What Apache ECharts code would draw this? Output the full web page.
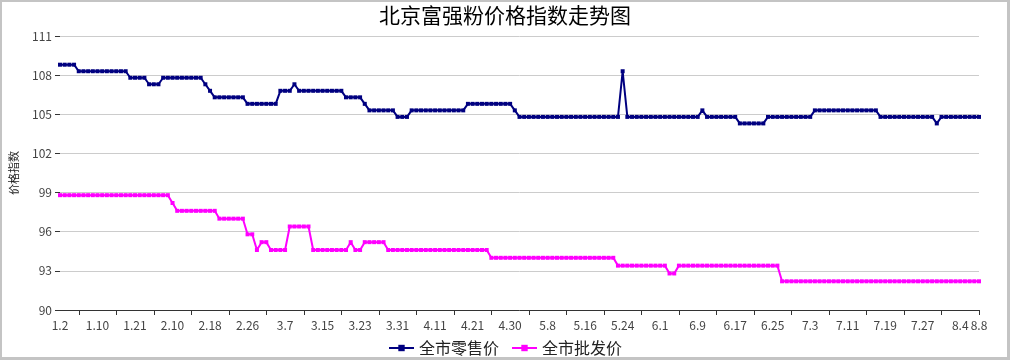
<!DOCTYPE html>
<html>
<head>
<meta charset="utf-8">
<script src="https://cdn.jsdelivr.net/npm/echarts@6/dist/echarts.min.js"></script>
<style>
html,body{margin:0;padding:0;background:#fff;}
#wrap{position:relative;width:1010px;height:360px;}
#chart{position:absolute;left:0;top:0;width:1010px;height:360px;}
#frame{position:absolute;left:0;top:0;width:1010px;height:360px;box-sizing:border-box;border-style:solid;border-color:#c4c4c4;border-width:2px 3px 3px 2px;pointer-events:none;}
</style>
</head>
<body>
<div id="wrap"><div id="chart"></div><div id="frame"></div></div>
<script>
var titleText = '北京富强粉价格指数走势图';
var yAxisName = '价格指数';
var seriesNames = ['全市零售价', '全市批发价'];

var dates = [
 '1.2','1.3','1.4','1.5','1.6','1.7','1.8','1.9',
 '1.10','1.11','1.12','1.13','1.14','1.17','1.18','1.19',
 '1.21','1.22','1.23','1.24','1.25','1.26','1.27','1.28',
 '2.10','2.11','2.12','2.13','2.14','2.15','2.16','2.17',
 '2.18','2.19','2.20','2.21','2.22','2.23','2.24','2.25',
 '2.26','2.27','2.28','3.2','3.3','3.4','3.5','3.6',
 '3.7','3.8','3.9','3.10','3.11','3.12','3.13','3.14',
 '3.15','3.16','3.17','3.18','3.19','3.20','3.21','3.22',
 '3.23','3.24','3.25','3.26','3.27','3.28','3.29','3.30',
 '3.31','4.1','4.2','4.3','4.7','4.8','4.9','4.10',
 '4.11','4.12','4.13','4.14','4.15','4.16','4.19','4.20',
 '4.21','4.22','4.23','4.24','4.25','4.26','4.27','4.29',
 '4.30','5.1','5.2','5.3','5.4','5.5','5.6','5.7',
 '5.8','5.9','5.10','5.11','5.12','5.13','5.14','5.15',
 '5.16','5.17','5.18','5.19','5.20','5.21','5.22','5.23',
 '5.24','5.25','5.26','5.27','5.28','5.29','5.30','5.31',
 '6.1','6.2','6.3','6.4','6.5','6.6','6.7','6.8',
 '6.9','6.10','6.11','6.12','6.13','6.14','6.15','6.16',
 '6.17','6.18','6.19','6.20','6.21','6.22','6.23','6.24',
 '6.25','6.26','6.27','6.28','6.29','6.30','7.1','7.2',
 '7.3','7.4','7.5','7.6','7.7','7.8','7.9','7.10',
 '7.11','7.12','7.13','7.14','7.15','7.16','7.17','7.18',
 '7.19','7.20','7.21','7.22','7.23','7.24','7.25','7.26',
 '7.27','7.28','7.29','7.30','7.31','8.1','8.2','8.3',
 '8.4','8.5','8.6','8.7','8.8'
];

var retail = [
 108.8,108.8,108.8,108.8,108.3,108.3,108.3,108.3,
 108.3,108.3,108.3,108.3,108.3,108.3,108.3,107.8,
 107.8,107.8,107.8,107.3,107.3,107.3,107.8,107.8,
 107.8,107.8,107.8,107.8,107.8,107.8,107.8,107.3,
 106.8,106.3,106.3,106.3,106.3,106.3,106.3,106.3,
 105.8,105.8,105.8,105.8,105.8,105.8,105.8,106.8,
 106.8,106.8,107.3,106.8,106.8,106.8,106.8,106.8,
 106.8,106.8,106.8,106.8,106.8,106.3,106.3,106.3,
 106.3,105.8,105.3,105.3,105.3,105.3,105.3,105.3,
 104.8,104.8,104.8,105.3,105.3,105.3,105.3,105.3,
 105.3,105.3,105.3,105.3,105.3,105.3,105.3,105.8,
 105.8,105.8,105.8,105.8,105.8,105.8,105.8,105.8,
 105.8,105.3,104.8,104.8,104.8,104.8,104.8,104.8,
 104.8,104.8,104.8,104.8,104.8,104.8,104.8,104.8,
 104.8,104.8,104.8,104.8,104.8,104.8,104.8,104.8,
 108.3,104.8,104.8,104.8,104.8,104.8,104.8,104.8,
 104.8,104.8,104.8,104.8,104.8,104.8,104.8,104.8,
 104.8,105.3,104.8,104.8,104.8,104.8,104.8,104.8,
 104.8,104.3,104.3,104.3,104.3,104.3,104.3,104.8,
 104.8,104.8,104.8,104.8,104.8,104.8,104.8,104.8,
 104.8,105.3,105.3,105.3,105.3,105.3,105.3,105.3,
 105.3,105.3,105.3,105.3,105.3,105.3,105.3,104.8,
 104.8,104.8,104.8,104.8,104.8,104.8,104.8,104.8,
 104.8,104.8,104.8,104.3,104.8,104.8,104.8,104.8,
 104.8,104.8,104.8,104.8,104.8
];

var wholesale = [
 98.8,98.8,98.8,98.8,98.8,98.8,98.8,98.8,
 98.8,98.8,98.8,98.8,98.8,98.8,98.8,98.8,
 98.8,98.8,98.8,98.8,98.8,98.8,98.8,98.8,
 98.2,97.6,97.6,97.6,97.6,97.6,97.6,97.6,
 97.6,97.6,97.0,97.0,97.0,97.0,97.0,97.0,
 95.8,95.8,94.6,95.2,95.2,94.6,94.6,94.6,
 94.6,96.4,96.4,96.4,96.4,96.4,94.6,94.6,
 94.6,94.6,94.6,94.6,94.6,94.6,95.2,94.6,
 94.6,95.2,95.2,95.2,95.2,95.2,94.6,94.6,
 94.6,94.6,94.6,94.6,94.6,94.6,94.6,94.6,
 94.6,94.6,94.6,94.6,94.6,94.6,94.6,94.6,
 94.6,94.6,94.6,94.6,94.0,94.0,94.0,94.0,
 94.0,94.0,94.0,94.0,94.0,94.0,94.0,94.0,
 94.0,94.0,94.0,94.0,94.0,94.0,94.0,94.0,
 94.0,94.0,94.0,94.0,94.0,94.0,94.0,93.4,
 93.4,93.4,93.4,93.4,93.4,93.4,93.4,93.4,
 93.4,93.4,92.8,92.8,93.4,93.4,93.4,93.4,
 93.4,93.4,93.4,93.4,93.4,93.4,93.4,93.4,
 93.4,93.4,93.4,93.4,93.4,93.4,93.4,93.4,
 93.4,93.4,92.2,92.2,92.2,92.2,92.2,92.2,
 92.2,92.2,92.2,92.2,92.2,92.2,92.2,92.2,
 92.2,92.2,92.2,92.2,92.2,92.2,92.2,92.2,
 92.2,92.2,92.2,92.2,92.2,92.2,92.2,92.2,
 92.2,92.2,92.2,92.2,92.2,92.2,92.2,92.2,
 92.2,92.2,92.2,92.2,92.2
];

var FONT = '"Noto Sans CJK SC", "Noto Sans", sans-serif';
var lastIdx = dates.length - 1;

var chart = echarts.init(document.getElementById('chart'), null, {renderer: 'canvas'});
chart.setOption({
  animation: false,
  backgroundColor: '#ffffff',
  textStyle: {fontFamily: FONT},
  title: {
    text: titleText,
    left: 'center',
    top: 5,
    padding: 0,
    textStyle: {fontFamily: FONT, fontSize: 21, fontWeight: 'normal', color: '#000'}
  },
  legend: {
    bottom: 4,
    left: 'center',
    padding: 0,
    itemWidth: 25,
    itemHeight: 8,
    itemGap: 12,
    textStyle: {fontFamily: FONT, fontSize: 16, color: '#222'},
    data: seriesNames
  },
  grid: {left: 59, right: 31, top: 36, bottom: 50},
  xAxis: {
    type: 'category',
    boundaryGap: false,
    data: dates,
    axisLine: {lineStyle: {color: '#333', width: 1}},
    axisTick: {
      show: true,
      length: 5,
      interval: function (i) { return i % 8 === 4; },
      lineStyle: {color: '#333'}
    },
    axisLabel: {
      interval: function (i) { return i % 8 === 0 || i === lastIdx; },
      margin: 9,
      fontFamily: FONT,
      fontSize: 12,
      color: '#444'
    },
    splitLine: {show: false}
  },
  yAxis: {
    type: 'value',
    min: 90,
    max: 111,
    interval: 3,
    name: yAxisName,
    nameLocation: 'middle',
    nameGap: 41,
    nameRotate: 90,
    nameTextStyle: {fontFamily: FONT, fontSize: 11, color: '#222'},
    axisLine: {show: false},
    axisTick: {show: true, length: 5, lineStyle: {color: '#333'}},
    axisLabel: {margin: 8, fontFamily: FONT, fontSize: 12, color: '#444'},
    splitLine: {lineStyle: {color: '#cccccc', width: 1}}
  },
  series: [
    {
      name: seriesNames[0],
      type: 'line',
      data: retail,
      symbol: 'rect',
      symbolSize: 4,
      showAllSymbol: true,
      itemStyle: {color: '#000080'},
      lineStyle: {color: '#000080', width: 2}
    },
    {
      name: seriesNames[1],
      type: 'line',
      data: wholesale,
      symbol: 'rect',
      symbolSize: 4,
      showAllSymbol: true,
      itemStyle: {color: '#ff00ff'},
      lineStyle: {color: '#ff00ff', width: 2}
    }
  ]
});
</script>
</body>
</html>
